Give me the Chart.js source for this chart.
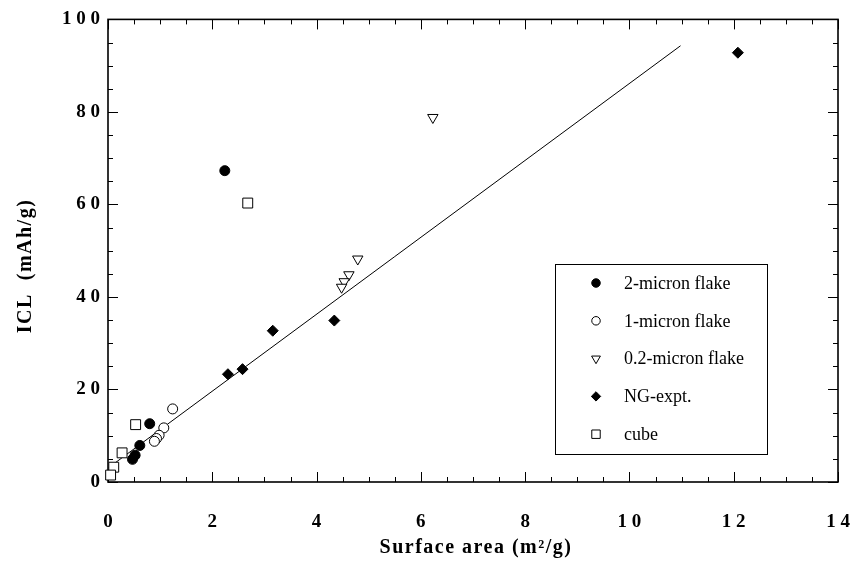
<!DOCTYPE html>
<html>
<head>
<meta charset="utf-8">
<script src="https://cdn.jsdelivr.net/npm/chart.js@4.4.1/dist/chart.umd.min.js"></script>
<style>
  html, body { margin: 0; padding: 0; background: #fff; }
  #wrap { width: 855px; height: 561px; position: relative; }
</style>
</head>
<body>
<div id="wrap"><canvas id="chart"></canvas></div>
<script>
// Axis ticks
const X_TICKS = [0, 2, 4, 6, 8, 10, 12, 14];
const Y_TICKS = [0, 20, 40, 60, 80, 100];
const X_TITLE = 'Surface area (m²/g)';
const Y_TITLE = 'ICL  (mAh/g)';

// Series (surface area m2/g, ICL mAh/g)
const flake2X = [2.24, 0.80, 0.61, 0.52, 0.47];
const flake2Y = [67.3, 12.6, 7.9, 5.8, 4.9];

const flake1X = [1.24, 1.07, 0.98, 0.93, 0.89];
const flake1Y = [15.8, 11.7, 10.1, 9.4, 8.8];

const flake02X = [6.23, 4.79, 4.62, 4.53, 4.48];
const flake02Y = [78.8, 48.2, 44.8, 43.3, 42.1];

const ngX = [12.08, 4.34, 3.16, 2.58, 2.30];
const ngY = [92.8, 34.9, 32.7, 24.4, 23.3];

const cubeX = [2.68, 0.53, 0.27, 0.11, 0.05];
const cubeY = [60.3, 12.4, 6.3, 3.2, 1.5];

const fitX = [0, 10.98];
const fitY = [3.0, 94.3];

const zip = (xs, ys) => xs.map((x, i) => ({ x: x, y: ys[i] }));
const spaced = v => String(v).split('').join(' ');
const SERIF = '"Liberation Serif", "Times New Roman", serif';

function scatterSet(label, xs, ys, style, radius, fill, rotation) {
    return {
        type: 'scatter',
        label: label,
        data: zip(xs, ys),
        pointStyle: style,
        pointRadius: radius,
        pointHoverRadius: radius,
        pointRotation: rotation || 0,
        pointBackgroundColor: fill,
        pointBorderColor: '#000',
        pointBorderWidth: 1,
        clip: false,
        legendRadius: radius * 0.85
    };
}

// inward ticks on all four sides plus the frame
const frameTicks = {
    id: 'frameTicks',
    beforeDatasetsDraw(chart) {
        const { ctx, chartArea: a, scales: { x, y } } = chart;
        ctx.save();
        ctx.strokeStyle = '#000';
        ctx.lineWidth = 1;
        ctx.beginPath();
        for (let v = 0; v <= 14.001; v += 0.5) {
            const px = Math.round(x.getPixelForValue(v)) + 0.5;
            const len = Math.abs(v % 2) < 0.01 ? 10 : 5;
            ctx.moveTo(px, a.bottom); ctx.lineTo(px, a.bottom - len);
            ctx.moveTo(px, a.top); ctx.lineTo(px, a.top + len);
        }
        for (let v = 0; v <= 100.001; v += 5) {
            const py = Math.round(y.getPixelForValue(v)) + 0.5;
            const len = Math.abs(v % 20) < 0.01 ? 10 : 5;
            ctx.moveTo(a.left, py); ctx.lineTo(a.left + len, py);
            ctx.moveTo(a.right, py); ctx.lineTo(a.right - len, py);
        }
        ctx.stroke();
        ctx.lineWidth = 1.6;
        ctx.strokeRect(a.left, a.top, a.right - a.left, a.bottom - a.top);
        ctx.restore();
    }
};

// axis titles, letter-spaced like the print
const axisTitles = {
    id: 'axisTitles',
    afterDraw(chart) {
        const ctx = chart.ctx;
        ctx.save();
        ctx.fillStyle = '#000';
        ctx.font = 'bold 20px ' + SERIF;
        ctx.letterSpacing = '1.5px';
        ctx.textAlign = 'center';
        ctx.textBaseline = 'middle';
        ctx.fillText(X_TITLE, 476, 548);
        ctx.translate(26, 266);
        ctx.rotate(-Math.PI / 2);
        ctx.fillText(Y_TITLE, 0, 0);
        ctx.restore();
    }
};

// boxed legend inside the plot
const boxLegend = {
    id: 'boxLegend',
    afterDraw(chart) {
        const ctx = chart.ctx;
        const box = { left: 555, top: 264, right: 767, bottom: 454 };
        ctx.save();
        ctx.fillStyle = '#fff';
        ctx.fillRect(box.left, box.top, box.right - box.left, box.bottom - box.top);
        ctx.strokeStyle = '#000';
        ctx.lineWidth = 1;
        ctx.strokeRect(box.left + 0.5, box.top + 0.5, box.right - box.left, box.bottom - box.top);
        ctx.font = '18px ' + SERIF;
        ctx.textBaseline = 'middle';
        let row = 0;
        chart.data.datasets.forEach(ds => {
            if (ds.type !== 'scatter') return;
            const yy = 283 + row * 37.8;
            ctx.fillStyle = ds.pointBackgroundColor;
            ctx.strokeStyle = '#000';
            ctx.lineWidth = 1;
            Chart.helpers.drawPoint(ctx, {
                pointStyle: ds.pointStyle,
                radius: ds.legendRadius,
                rotation: ds.pointRotation,
                borderWidth: 1
            }, 596, yy);
            ctx.fillStyle = '#000';
            ctx.fillText(ds.label, 624, yy + 1);
            row++;
        });
        ctx.restore();
    }
};

const serifBold = size => ({ family: SERIF, size: size, weight: 'bold' });

new Chart(document.getElementById('chart'), {
    data: {
        datasets: [
            scatterSet('2-micron flake', flake2X, flake2Y, 'circle', 5, '#000'),
            scatterSet('1-micron flake', flake1X, flake1Y, 'circle', 5, '#fff'),
            scatterSet('0.2-micron flake', flake02X, flake02Y, 'triangle', 6, '#fff', 180),
            scatterSet('NG-expt.', ngX, ngY, 'rectRot', 5.5, '#000'),
            scatterSet('cube', cubeX, cubeY, 'rect', 7, '#fff'),
            {
                type: 'line',
                label: 'fit',
                data: zip(fitX, fitY),
                borderColor: '#000',
                borderWidth: 1,
                pointRadius: 0,
                fill: false,
                clip: false
            }
        ]
    },
    options: {
        responsive: true,
        maintainAspectRatio: false,
        animation: false,
        layout: { padding: { top: 15, right: 17, left: 0, bottom: 0 } },
        plugins: {
            legend: { display: false },
            tooltip: { enabled: false }
        },
        scales: {
            x: {
                type: 'linear',
                min: 0,
                max: 14,
                afterBuildTicks: s => { s.ticks = X_TICKS.map(v => ({ value: v })); },
                afterFit: s => { s.height = 79; s.paddingLeft = 0; s.paddingRight = 12; },
                grid: { display: false, drawTicks: false },
                border: { display: false },
                ticks: {
                    color: '#000',
                    font: serifBold(19),
                    padding: 29,
                    maxRotation: 0,
                    callback: v => spaced(v)
                },
                title: { display: false }
            },
            y: {
                type: 'linear',
                min: 0,
                max: 100,
                afterBuildTicks: s => { s.ticks = Y_TICKS.map(v => ({ value: v })); },
                afterFit: s => { s.width = 108; },
                grid: { display: false, drawTicks: false },
                border: { display: false },
                ticks: {
                    color: '#000',
                    font: serifBold(19),
                    padding: 8,
                    callback: v => spaced(v)
                },
                title: { display: false }
            }
        }
    },
    plugins: [frameTicks, axisTitles, boxLegend]
});
</script>
</body>
</html>
